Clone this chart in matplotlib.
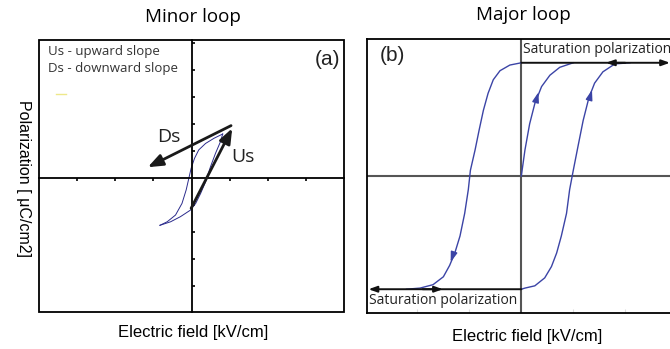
import numpy as np
import matplotlib.pyplot as plt
from matplotlib.patches import Rectangle

# --- minor loop (a) ---
minor_up_x = [-0.83, -0.64, -0.42, -0.25, -0.14, -0.07, -0.01, 0.08, 0.19, 0.37, 0.59, 0.82]
minor_up_y = [-1.75, -1.62, -1.37, -0.94, -0.44, -0.01, 0.36, 0.73, 1.04, 1.28, 1.47, 1.63]
minor_lo_x = [-0.83, -0.55, -0.29, -0.03, 0.11, 0.24, 0.37, 0.50, 0.63, 0.76, 0.82]
minor_lo_y = [-1.75, -1.62, -1.43, -1.19, -0.94, -0.57, -0.14, 0.42, 0.91, 1.34, 1.63]
minor_xticks = [-3, -2, -1, 1, 2, 3]
minor_yticks = [-4, -3, -2, -1, 1, 2, 3, 4, 5]
us_arrow = [(-0.01, -1.12), (1.07, 1.84)]
ds_arrow = [(1.04, 1.94), (-1.15, 0.40)]

# --- major loop (b) ---
init_x = [0.0, 0.07, 0.16, 0.26, 0.39, 0.55, 0.74, 1.0]
init_y = [0.0, 0.23, 0.46, 0.64, 0.79, 0.89, 0.96, 1.0]
desc_x = [0.0, -0.22, -0.41, -0.54, -0.64, -0.73, -0.81, -0.89, -0.98, -1.02,
          -1.09, -1.18, -1.28, -1.38, -1.50, -1.70, -1.95, -2.21]
desc_y = [1.0, 0.98, 0.93, 0.85, 0.73, 0.58, 0.41, 0.23, 0.05, -0.12,
          -0.33, -0.53, -0.68, -0.79, -0.89, -0.96, -0.99, -1.0]
asc_x = [0.0, 0.07, 0.26, 0.45, 0.58, 0.68, 0.77, 0.87, 0.93, 1.0,
         1.09, 1.19, 1.30, 1.41, 1.57, 1.80, 2.09]
asc_y = [-1.0, -0.99, -0.97, -0.90, -0.80, -0.68, -0.53, -0.33, -0.12, 0.05,
         0.26, 0.49, 0.69, 0.82, 0.92, 0.99, 1.0]
major_xticks = [-2, -1, 1, 2]
# small flow arrows on the curves: (start, end)
flow_arrows = [((0.28, 0.66), (0.33, 0.74)),
               ((1.31, 0.68), (1.36, 0.76)),
               ((-1.30, -0.68), (-1.36, -0.76))]

fig = plt.figure(figsize=(6.7, 3.49), dpi=100)
fig.patch.set_facecolor('white')

# ================= panel (a) =================
ax1 = fig.add_axes([39/670, 1 - 312/349, 305/670, 272/349])
ax1.set_xlim(-4.01, 4.01)
ax1.set_ylim(-4.96, 5.11)
for s in ['top', 'right']:
    ax1.spines[s].set_visible(False)
ax1.spines['left'].set_position(('data', 0))
ax1.spines['bottom'].set_position(('data', 0))
ax1.spines['left'].set_linewidth(1.3)
ax1.spines['bottom'].set_linewidth(1.3)
ax1.add_patch(Rectangle((0, 0), 1, 1, transform=ax1.transAxes, fill=False,
                        ec='black', lw=1.3, clip_on=False))
ax1.set_xticks(minor_xticks)
ax1.set_yticks(minor_yticks)
ax1.set_xticklabels([])
ax1.set_yticklabels([])
ax1.tick_params(axis='x', direction='out', length=2.5, width=1.2)
ax1.tick_params(axis='y', direction='in', length=2.5, width=1.2)

ax1.plot(minor_up_x, minor_up_y, color='#2b2b8c', lw=0.7)
ax1.plot(minor_lo_x, minor_lo_y, color='#2b2b8c', lw=0.7)

for a in (us_arrow, ds_arrow):
    ax1.annotate('', xy=a[1], xytext=a[0],
                 arrowprops=dict(arrowstyle='-|>,head_length=0.9,head_width=0.35',
                                 color='#1a1a1a', lw=2, shrinkA=0, shrinkB=0))
ax1.text(-0.6, 1.52, 'Ds', fontsize=14, family='Open Sans', color='#222222',
         ha='center', va='center')
ax1.text(1.35, 0.79, 'Us', fontsize=14, family='Open Sans', color='#222222',
         ha='center', va='center')
ax1.plot([-3.55, -3.29], [3.11, 3.11], color='#eee88a', lw=1)

ax1.text(0.03, 0.956, 'Us - upward slope', transform=ax1.transAxes, fontsize=9.5,
         family='Open Sans', color='#333333', va='center')
ax1.text(0.03, 0.897, 'Ds - downward slope', transform=ax1.transAxes, fontsize=9.5,
         family='Open Sans', color='#333333', va='center')
ax1.text(0.945, 0.93, '(a)', transform=ax1.transAxes, fontsize=15,
         family='Liberation Sans', color='#222222', ha='center', va='center')

fig.text(193/670, 1 - 17/349, 'Minor loop', fontsize=13.5, family='Open Sans',
         ha='center', va='center')
fig.text(193/670, 1 - 333/349, 'Electric field [kV/cm]', fontsize=12,
         family='Liberation Sans', ha='center', va='center')
fig.text(23/670, 1 - 178/349, 'Polarization [ μC/cm2]', fontsize=11.5,
         family='Liberation Sans', rotation=270, ha='center', va='center')

# ================= panel (b) =================
ax2 = fig.add_axes([367/670, 1 - 313/349, 305/670, 274/349])
ax2.set_xlim(-2.97, 2.90)
ax2.set_ylim(-1.21, 1.21)
for s in ['top', 'left', 'bottom']:
    ax2.spines[s].set_linewidth(1.3)
ax2.spines['right'].set_visible(False)
ax2.set_xticks(major_xticks)
ax2.set_yticks([])
ax2.set_xticklabels([])
ax2.tick_params(axis='x', direction='in', length=3, width=0.8, color='#dddddd')
ax2.axhline(0, color='#555555', lw=1.5)
ax2.axvline(0, color='#555555', lw=1.5)

curve_color = '#3b44a6'
ax2.plot(init_x, init_y, color=curve_color, lw=1)
ax2.plot(desc_x, desc_y, color=curve_color, lw=1)
ax2.plot(asc_x, asc_y, color=curve_color, lw=1)
for start, end in flow_arrows:
    ax2.annotate('', xy=end, xytext=start,
                 arrowprops=dict(arrowstyle='-|>,head_length=0.6,head_width=0.2',
                                 color=curve_color, lw=1, shrinkA=0, shrinkB=0))

# saturation arrows
sat_kw = dict(arrowstyle='-|>,head_length=0.5,head_width=0.18', color='#111111',
              lw=1.4, shrinkA=0, shrinkB=0)
ax2.annotate('', xy=(2.86, 1.0), xytext=(0.0, 1.0), arrowprops=sat_kw)
ax2.annotate('', xy=(1.63, 1.0), xytext=(2.0, 1.0), arrowprops=sat_kw)
ax2.annotate('', xy=(-2.94, -1.0), xytext=(0.0, -1.0), arrowprops=sat_kw)
ax2.annotate('', xy=(-1.51, -1.0), xytext=(-1.9, -1.0), arrowprops=sat_kw)

ax2.text(0.03, 1.12, 'Saturation polarization', fontsize=10, family='Open Sans',
         color='#222222', ha='left', va='center')
ax2.text(-2.94, -1.10, 'Saturation polarization', fontsize=10, family='Open Sans',
         color='#222222', ha='left', va='center')
ax2.text(-2.49, 1.06, '(b)', fontsize=15, family='Liberation Sans',
         color='#222222', ha='center', va='center')

fig.text(523/670, 1 - 15/349, 'Major loop', fontsize=13.5, family='Open Sans',
         ha='center', va='center')
fig.text(527/670, 1 - 337/349, 'Electric field [kV/cm]', fontsize=12,
         family='Liberation Sans', ha='center', va='center')

fig.savefig('out.png', dpi=100)
